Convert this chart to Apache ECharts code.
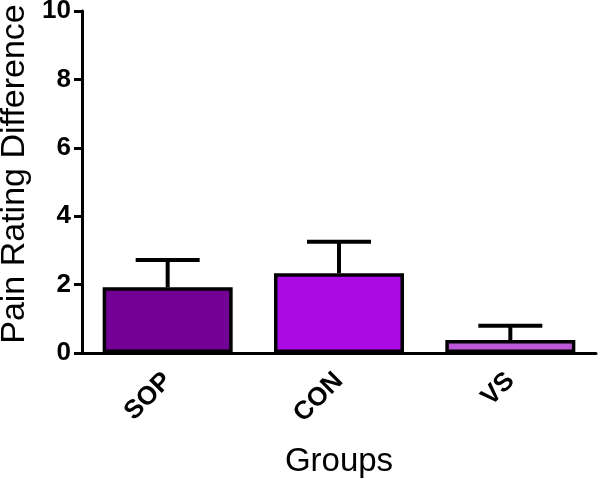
<!DOCTYPE html>
<html>
<head>
<meta charset="utf-8">
<script src="https://cdn.jsdelivr.net/npm/echarts@6/dist/echarts.min.js"></script>
<style>html,body{margin:0;padding:0;background:#fff}#c{width:600px;height:479px}</style>
</head>
<body>
<div id="c"></div>
<script>
const categories = ['SOP', 'CON', 'VS'];
const means = [1.92, 2.33, 0.38];
const upperErr = [2.72, 3.25, 0.8];
const barColors = ['#730094', '#AC0AE4', '#BD59D8'];
const yTicks = [0, 2, 4, 6, 8, 10];

const chart = echarts.init(document.getElementById('c'));
chart.setOption({
  animation: false,
  backgroundColor: '#fff',
  grid: { left: 82, right: 4, top: 11, bottom: 126, outerBoundsMode: 'none', containLabel: false },
  xAxis: {
    type: 'category',
    data: categories,
    name: 'Groups',
    nameLocation: 'middle',
    nameGap: 92,
    nameTextStyle: { fontFamily: 'Liberation Sans', fontSize: 33, color: '#000' },
    axisLine: { lineStyle: { color: '#000', width: 3 } },
    axisTick: { alignWithLabel: true, length: 9, lineStyle: { width: 3, color: '#000' } },
    axisLabel: { rotate: 45, margin: 24, fontFamily: 'Liberation Sans', fontWeight: 'bold', fontSize: 26, color: '#000' }
  },
  yAxis: {
    type: 'value',
    min: yTicks[0],
    max: yTicks[yTicks.length - 1],
    interval: 2,
    name: 'Pain Rating Difference',
    nameLocation: 'middle',
    nameGap: 42,
    nameTextStyle: { fontFamily: 'Liberation Sans', fontSize: 34, color: '#000', padding: [0, 0, 0, 16] },
    splitLine: { show: false },
    axisLine: { show: true, lineStyle: { color: '#000', width: 3 } },
    axisTick: { show: true, length: 8, lineStyle: { width: 3, color: '#000' } },
    axisLabel: { margin: 11, fontFamily: 'Liberation Sans', fontWeight: 'bold', fontSize: 26, color: '#000' }
  },
  series: [
    {
      type: 'bar',
      barWidth: 130,
      data: means.map((v, i) => ({ value: v, itemStyle: { color: barColors[i] } })),
      itemStyle: { borderColor: '#000', borderWidth: 3.5 },
      z: 2
    },
    {
      type: 'custom',
      z: 1,
      data: categories.map((c, i) => [i, means[i], upperErr[i]]),
      renderItem: function (params, api) {
        const base = api.coord([api.value(0), api.value(1)]);
        const top = api.coord([api.value(0), api.value(2)]);
        const half = 32;
        return {
          type: 'group',
          children: [
            { type: 'line', shape: { x1: base[0], y1: base[1], x2: top[0], y2: top[1] }, style: { stroke: '#000', lineWidth: 4 } },
            { type: 'line', shape: { x1: top[0] - half, y1: top[1], x2: top[0] + half, y2: top[1] }, style: { stroke: '#000', lineWidth: 4 } }
          ]
        };
      }
    }
  ]
});
</script>
</body>
</html>
